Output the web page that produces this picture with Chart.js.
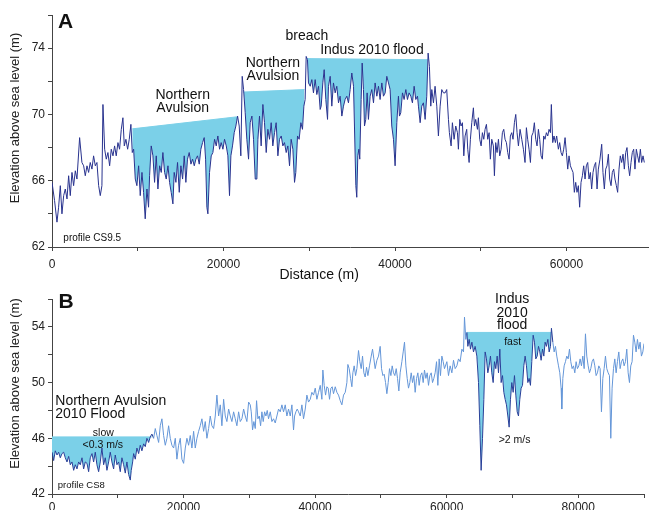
<!DOCTYPE html>
<html>
<head>
<meta charset="utf-8">
<script src="https://cdn.jsdelivr.net/npm/chart.js@4.4.1/dist/chart.umd.min.js"></script>
<style>
  html, body { margin: 0; padding: 0; background: #fff; }
  #wrap { position: relative; width: 649px; height: 510px; overflow: hidden; }
  canvas { position: absolute; left: 0; }
  #cA { top: 0; }
  #cB { top: 280px; }
</style>
</head>
<body>
<div id="wrap">
  <canvas id="cA" width="649" height="290"></canvas>
  <canvas id="cB" width="649" height="230"></canvas>
</div>
<script>
// --- profile CS9.5 (panel A): [distance m, elevation m]
var profileA = [
  [0,65.9],[300,64.8],[580,63.5],[770,64.4],[970,65.7],[1160,64.0],[1360,65.1],[1550,65.5],[1750,64.9],[1940,66.3],
  [2130,65.1],[2330,66.5],[2520,65.7],[2720,66.6],[2910,66.1],[3220,68.6],[3490,67.1],[3690,66.9],[3880,66.3],[4080,66.9],
  [4270,66.5],[4460,67.1],[4660,66.7],[4850,67.5],[5050,66.9],[5240,67.1],[5440,65.7],[5630,65.1],[5820,65.7],[5940,70.6],
  [6140,67.9],[6330,67.3],[6520,67.7],[6720,66.9],[6910,67.9],[7110,67.5],[7300,68.1],[7490,67.5],[7690,68.3],[7880,67.9],
  [8080,69.1],[8270,69.8],[8430,68.1],[8620,68.5],[8820,67.9],[9010,68.5],[9200,69.4],[9360,67.7],[9520,67.9],[9710,66.1],
  [9900,65.7],[10100,66.9],[10290,65.1],[10490,66.5],[10680,65.3],[10870,63.7],[11070,65.5],[11260,64.4],[11380,66.3],[11570,68.1],
  [11770,67.5],[11960,65.9],[12160,67.5],[12350,65.5],[12550,66.9],[12740,66.5],[12930,67.7],[13130,66.5],[13320,66.1],[13520,66.9],
  [13710,65.9],[13900,65.3],[14100,64.6],[14250,66.5],[14450,65.9],[14640,67.1],[14840,65.3],[15030,66.9],[15230,66.1],[15420,67.5],
  [15610,65.9],[15800,67.3],[16000,67.7],[16200,67.0],[16390,67.3],[16590,66.9],[16780,67.3],[16970,67.5],[17170,67.0],[17360,67.9],
  [17560,68.3],[17750,68.6],[17910,67.3],[18060,64.4],[18180,64.0],[18370,66.5],[18570,67.5],[18760,67.7],[18960,68.5],[19150,68.1],
  [19340,68.7],[19540,67.9],[19730,68.3],[19930,67.9],[20120,68.5],[20320,68.1],[20510,67.5],[20700,65.1],[20860,67.5],[21050,68.1],
  [21250,68.9],[21440,69.3],[21640,69.9],[21830,69.3],[22020,67.5],[22180,72.3],[22340,71.5],[22530,70.1],
  [22720,68.5],[22920,67.3],[23110,69.5],[23310,69.9],[23500,68.5],[23700,66.1],[23890,66.1],[24010,68.5],[24200,69.9],[24390,68.1],
  [24590,70.6],[24780,69.5],[24980,67.7],[25170,69.1],[25370,68.5],[25560,69.5],[25750,68.1],[25950,68.9],[26140,69.5],[26340,67.5],
  [26530,68.5],[26730,68.7],[26920,68.1],[27110,68.3],[27310,67.7],[27500,68.1],[27700,66.9],[27890,68.5],[28090,67.9],[28280,65.9],
  [28430,66.5],[28630,68.7],[28820,68.5],[29020,69.5],[29210,69.1],[29370,70.5],[29520,70.9],[29640,73.5],[29790,73.3],[29910,71.9],
  [30110,71.7],[30300,72.1],[30490,71.3],[30690,72.1],[30880,71.2],[31080,71.7],[31270,70.3],[31390,70.5],[31580,71.9],[31740,72.7],
  [31930,70.9],[32130,69.7],[32240,71.7],[32440,72.3],[32630,70.5],[32820,71.9],[33020,71.3],[33210,71.7],[33410,70.7],[33600,71.1],
  [33800,69.9],[33990,70.5],[34180,70.9],[34380,71.1],[34570,70.7],[34770,71.5],[34960,72.5],[35160,71.7],[35270,69.3],[35430,65.7],
  [35540,65.0],[35660,67.5],[35780,67.9],[35890,67.3],[36050,70.9],[36170,73.1],[36320,71.5],[36440,69.3],[36590,69.7],[36750,71.3],
  [36900,69.7],[37100,71.1],[37290,71.5],[37490,70.7],[37680,71.9],[37880,71.1],[38070,71.7],[38260,70.9],[38460,71.9],[38650,71.1],
  [38850,71.3],[39040,72.3],[39240,71.9],[39430,71.5],[39620,69.3],[39820,68.5],[40010,66.9],[40210,69.5],[40400,71.1],[40520,69.9],
  [40670,70.1],[40870,71.3],[41060,70.9],[41260,71.5],[41450,70.9],[41640,71.3],[41840,71.1],[42030,70.7],[42230,71.7],[42420,70.9],
  [42620,71.1],[42730,70.5],[42930,69.5],[43120,70.5],[43310,70.7],[43510,69.7],[43700,71.1],[43860,73.7],[44010,72.9],[44170,70.5],
  [44290,71.5],[44480,70.7],[44670,71.7],[44870,70.5],[45060,68.7],[45260,70.5],[45450,71.5],[45650,71.3],
  [45840,71.3],[46030,71.5],[46230,69.7],[46340,68.9],[46540,68.1],[46690,69.5],[46890,68.5],[47080,69.3],[47280,68.9],[47390,67.9],
  [47550,69.7],[47700,69.3],[47860,69.5],[48020,67.5],[48170,68.7],[48360,69.1],[48480,67.9],[48640,67.1],[48790,68.5],[48950,69.5],
  [49140,70.4],[49260,69.3],[49410,69.7],[49610,69.1],[49720,69.8],[49880,68.5],[50040,68.1],[50190,68.9],[50350,68.5],[50500,69.1],
  [50660,69.4],[50810,68.5],[50970,68.9],[51120,67.3],[51280,68.5],[51470,68.1],[51590,66.3],[51740,68.3],[51900,67.7],[52060,68.5],
  [52210,67.5],[52370,67.9],[52520,68.9],[52680,69.1],[52830,68.5],[52990,68.3],[53140,67.7],[53300,67.3],[53450,68.7],[53610,68.9],
  [53760,68.5],[53920,69.5],[54080,70.0],[54230,68.9],[54390,68.1],[54580,69.1],[54780,68.5],[54970,67.9],[55160,67.1],[55320,69.2],
  [55470,68.5],[55630,67.9],[55790,67.1],[55940,68.7],[56100,68.9],[56250,69.5],[56410,68.5],[56560,68.1],[56720,69.1],[56870,68.5],
  [57030,67.5],[57180,67.3],[57340,68.7],[57490,68.5],[57650,68.9],[57810,68.7],[57960,69.1],[58120,68.9],[58230,70.6],[58390,68.3],
  [58540,68.7],[58700,68.3],[58850,68.7],[59050,67.9],[59200,68.3],[59360,67.7],[59510,67.5],[59670,67.9],[59830,68.6],[59980,67.7],
  [60140,66.7],[60290,67.5],[60450,66.9],[60600,66.7],[60760,66.5],[60910,65.3],[61070,65.9],[61220,65.3],[61380,65.7],[61530,64.4],
  [61690,65.9],[61850,66.3],[62000,66.9],[62160,66.1],[62310,66.9],[62470,67.1],[62620,66.1],[62780,66.5],[62930,65.5],[63090,66.5],
  [63240,66.9],[63400,67.1],[63560,65.5],[63710,66.7],[63900,67.3],[64100,68.2],[64250,66.5],[64410,65.5],[64570,66.7],[64720,66.9],
  [64880,67.6],[65030,66.1],[65190,65.7],[65340,66.5],[65500,66.7],[65650,66.1],[65810,65.7],[65960,65.3],[66120,66.7],[66270,67.5],
  [66430,67.1],[66590,67.6],[66740,66.7],[66900,67.7],[67050,68.0],[67210,66.9],[67360,66.3],[67520,67.1],[67670,67.7],[67830,67.9],
  [67980,66.7],[68140,67.9],[68290,67.5],[68450,67.1],[68610,67.9],[68760,67.1],[68920,67.5],[69070,67.1]
];

// flood water surfaces, panel A: [startDist, endDist], [startLevel, endLevel]
var floodDistA = [[9360, 21640], [22300, 29440], [29720, 43820]];
var floodLevelA = [[69.13, 69.86], [71.35, 71.5], [73.37, 73.3]];

// --- profile CS8 (panel B)
var profileB = [
  [0,45.0],[250,44.4],[500,45.1],[760,44.8],[1010,45.0],[1260,44.6],[1520,44.9],[1770,45.0],[2020,44.6],[2280,44.3],
  [2530,44.7],[2780,44.1],[3040,44.3],[3290,43.7],[3540,44.1],[3800,43.8],[4050,44.3],[4300,44.1],[4560,44.6],[4810,43.8],
  [5060,44.3],[5320,44.2],[5570,43.6],[5820,44.6],[6080,44.9],[6330,44.3],[6580,45.0],[6830,44.1],[7090,43.6],[7340,44.3],
  [7590,45.3],[7850,44.1],[8100,44.6],[8350,43.7],[8610,44.3],[8860,45.0],[9110,44.3],[9370,43.8],[9620,44.8],[9870,44.1],
  [10130,44.3],[10380,43.6],[10630,44.6],[10890,44.1],[11140,43.5],[11390,44.3],[11650,43.4],[11900,43.0],[12050,43.7],[12260,44.3],
  [12410,44.9],[12660,44.5],[12910,45.3],[13170,44.9],[13420,45.5],[13670,45.1],[13930,45.6],[14180,45.4],[14430,46.0],[14690,45.7],
  [14940,46.1],[15190,46.3],[15450,46.0],[15700,46.7],[15950,46.2],[16210,45.7],[16460,46.9],[16710,47.4],[16970,46.2],[17220,45.5],
  [17470,46.0],[17730,46.9],[17980,46.0],[18230,45.5],[18490,45.3],[18740,46.0],[18990,44.5],[19250,45.5],[19500,46.0],[19750,44.5],
  [20010,44.2],[20260,45.3],[20510,46.0],[20770,45.5],[21020,46.2],[21270,45.3],[21530,46.5],[21780,45.3],[22030,46.0],[22290,46.5],
  [22540,46.9],[22790,47.4],[23050,46.5],[23300,47.2],[23550,46.0],[23810,46.7],[24060,47.6],[24310,46.9],[24570,46.7],[24820,47.6],
  [25070,49.1],[25330,47.6],[25580,48.4],[25830,46.9],[26090,48.8],[26340,47.6],[26590,47.2],[26850,48.1],[27100,47.6],[27350,47.2],
  [27610,47.9],[27860,47.4],[28110,46.9],[28370,47.9],[28620,47.2],[28870,47.4],[29130,48.1],[29380,47.6],[29630,47.2],[29890,48.6],
  [30140,48.4],[30290,47.9],[30490,46.6],[30690,47.2],[30900,46.7],[31100,48.7],[31300,47.4],[31510,47.6],[31710,46.9],[31910,47.9],
  [32110,47.2],[32320,47.9],[32520,47.6],[32720,48.0],[32920,47.4],[33180,47.9],[33430,47.2],[33680,47.4],[33940,47.1],[34190,47.6],
  [34440,48.1],[34700,47.9],[34950,48.4],[35200,47.9],[35460,48.4],[35710,47.6],[35960,48.1],[36220,47.6],[36470,48.4],[36720,46.6],
  [36880,47.6],[37080,47.9],[37280,48.1],[37480,47.9],[37740,47.6],[37990,48.4],[38240,47.4],[38500,48.1],[38750,49.1],[39000,48.6],
  [39260,48.8],[39510,49.3],[39760,49.1],[40020,49.6],[40270,48.8],[40520,49.3],[40780,49.8],[41030,48.8],[41180,50.9],[41380,49.8],
  [41590,49.1],[41790,49.7],[41990,49.6],[42190,48.8],[42400,49.6],[42600,49.7],[42800,49.2],[43060,49.7],[43310,49.3],[43560,49.1],
  [43820,48.7],[44070,48.4],[44320,49.1],[44580,49.3],[44830,50.0],[44980,51.3],[45180,51.0],[45390,50.3],[45590,49.7],[45740,50.7],
  [45940,51.2],[46150,50.5],[46350,51.0],[46600,52.3],[46800,51.5],[47010,51.0],[47210,51.9],[47410,50.7],[47610,50.4],[47820,51.1],
  [48020,50.5],[48270,51.2],[48530,51.9],[48730,52.4],[48930,51.7],[49130,51.0],[49390,51.6],[49640,51.9],[49890,52.6],[50100,51.0],
  [50300,50.5],[50500,50.6],[50710,50.0],[50910,49.2],[51110,50.0],[51310,51.0],[51520,50.5],[51720,51.2],[51920,50.7],[52120,50.5],
  [52330,51.0],[52530,50.3],[52730,49.4],[52930,50.7],[53190,51.5],[53390,52.2],[53590,52.9],[53800,51.2],[54000,50.3],[54200,49.6],
  [54400,50.0],[54610,50.7],[54810,50.0],[55010,50.5],[55210,49.3],[55420,50.3],[55620,50.7],[55820,49.8],[56020,50.5],[56230,50.7],
  [56430,50.0],[56630,50.9],[56840,50.3],[57040,50.7],[57240,49.8],[57440,50.5],[57650,50.7],[57850,50.0],[58050,50.3],[58250,50.7],
  [58460,51.5],[58660,49.8],[58860,51.7],[59060,50.5],[59270,51.9],[59470,51.5],[59670,51.0],
  [60030,51.5],[60280,50.5],[60530,51.2],[60790,50.7],[61040,51.6],[61290,51.0],[61550,51.2],[61800,51.7],[62050,51.5],[62310,52.4],
  [62560,52.2],[62710,54.7],[62910,53.1],[63070,53.6],[63220,52.6],[63420,53.1],[63620,52.4],[63830,52.9],[64080,52.2],[64330,52.6],
  [64590,51.9],[64840,50.0],[65040,46.9],[65240,43.7],[65450,46.0],[65650,48.8],[65850,52.2],[66050,51.7],[66260,50.7],[66460,51.2],
  [66660,51.9],[66860,50.7],[67070,50.0],[67270,51.5],[67470,51.0],[67680,51.9],[67880,50.7],[68080,52.4],[68280,50.0],[68490,50.5],
  [68690,49.3],[68890,48.8],[69090,48.4],[69300,47.6],[69500,46.8],[69700,48.8],[69900,50.0],[70110,49.3],[70310,50.5],[70510,49.1],
  [70720,47.9],[70920,47.6],[71120,48.8],[71320,49.6],[71530,49.8],[71730,51.2],[71930,51.9],[72130,51.2],[72340,50.0],[72540,50.3],
  [72740,49.8],[72940,51.5],[73150,53.4],[73350,52.9],[73550,51.7],[73760,51.9],[73960,52.6],[74160,52.2],[74360,51.6],[74570,52.4],
  [74770,51.9],[74970,52.9],[75170,52.6],[75380,53.1],[75580,52.2],[75780,52.6],[75930,53.9],[76140,52.9],[76340,52.2],[76540,52.6],
  [76740,51.9],[77000,51.2],[77200,50.7],[77400,49.6],[77500,48.1],[77660,50.3],[77860,51.2],[78060,51.5],[78260,51.9],[78470,51.7],
  [78670,52.4],[78870,51.5],[79070,51.0],[79280,51.2],[79480,50.7],[79680,51.5],[79880,51.0],[80090,51.2],[80290,51.7],[80490,51.2],
  [80700,51.9],[80900,51.0],[81100,53.5],[81300,51.9],[81510,51.2],[81710,50.7],[81910,51.0],[82110,51.5],[82320,51.7],[82520,51.2],
  [82720,50.5],[82920,50.7],[83130,51.2],[83330,51.0],[83530,47.9],[83740,50.3],[83940,51.0],[84140,51.9],[84340,51.0],[84550,50.7],
  [84750,50.5],[84950,46.0],[85150,49.6],[85360,51.0],[85560,51.7],[85760,50.7],[85960,51.5],[86170,52.2],[86370,51.0],[86570,51.5],
  [86780,51.7],[86980,51.2],[87180,51.5],[87380,52.4],[87590,50.7],[87790,50.0],[87990,51.2],[88190,51.5],[88400,53.4],[88600,52.9],
  [88800,52.2],[89000,53.1],[89210,52.4],[89410,52.9],[89610,51.9],[89820,52.2],[90000,52.8]
];

var floodDistB = [[0, 15200], [63070, 75980]];
var floodLevelB = [[46.1, 46.1], [53.6, 53.6]];

// tick positions; only the labelled ones get text
var xTicksA = [0, 10000, 20000, 30000, 40000, 50000, 60000];
var xTicksB = [0, 10000, 20000, 30000, 40000, 50000, 60000, 70000, 80000, 90000];
var xLabels = [0, 20000, 40000, 60000, 80000];
var yLabelsA = [62, 66, 70, 74];
var yLabelsB = [42, 46, 50, 54];

var FONT = "'Liberation Sans', Arial, Helvetica, sans-serif";
var WATER = '#7bd0e8';
var NAVY = '#28328e';
var LIGHT = '#6496d8';
var DARK = '#273f98';
var AXIS = '#444';

function pts(arr) {
    return arr.map(function (p) { return { x: p[0], y: p[1] }; });
}

function floodSets(dists, levels) {
    return dists.map(function (d, i) {
        return {
            data: [{ x: d[0], y: levels[i][0] }, { x: d[1], y: levels[i][1] }],
            borderColor: WATER,
            borderWidth: 1,
            pointRadius: 0,
            fill: { target: 0, above: WATER, below: 'rgba(0,0,0,0)' }
        };
    });
}

function inFlood(x, dists) {
    return dists.some(function (d) { return x >= d[0] - 150 && x <= d[1] + 150; });
}

// text drawn at data coordinates, plus rotated y title
function notesPlugin(items, yTitleY) {
    return {
        id: 'notes',
        afterDatasetsDraw: function (chart) {
            var c = chart.ctx, xs = chart.scales.x, ys = chart.scales.y;
            c.save();
            c.fillStyle = '#111';
            c.textBaseline = 'alphabetic';
            items.forEach(function (it) {
                c.font = (it.bold ? 'bold ' : '') + it.size + 'px ' + FONT;
                c.textAlign = it.align || 'center';
                c.fillText(it.text, xs.getPixelForValue(it.x), ys.getPixelForValue(it.y));
            });
            c.translate(15.5, yTitleY);
            c.rotate(-Math.PI / 2);
            c.font = '13px ' + FONT;
            c.textAlign = 'center';
            c.textBaseline = 'middle';
            c.fillStyle = '#222';
            c.fillText('Elevation above sea level (m)', 0, 0);
            c.restore();
        }
    };
}

function scales(xMax, xTicks, yMin, yMax, yLabels, xHeight, xPad) {
    return {
        x: {
            type: 'linear', min: 0, max: xMax,
            border: { color: AXIS, width: 1 },
            grid: { drawOnChartArea: false, drawTicks: true, tickLength: 4, color: AXIS },
            afterBuildTicks: function (s) {
                s.ticks = xTicks.map(function (v) { return { value: v }; });
            },
            ticks: {
                autoSkip: false, maxRotation: 0, padding: xPad,
                color: '#222', font: { size: 12, family: FONT },
                callback: function (v) { return xLabels.indexOf(v) >= 0 ? String(v) : ''; }
            },
            afterFit: function (s) { s.height = xHeight; }
        },
        y: {
            type: 'linear', min: yMin, max: yMax,
            border: { color: AXIS, width: 1 },
            grid: { drawOnChartArea: false, drawTicks: true, tickLength: 4, color: AXIS },
            ticks: {
                stepSize: 2, autoSkip: false, padding: 3,
                color: '#222', font: { size: 12, family: FONT },
                callback: function (v) { return yLabels.indexOf(v) >= 0 ? String(v) : ''; }
            },
            afterFit: function (s) { s.width = 52; }
        }
    };
}

var notesA = [
    { text: 'A', x: 700, y: 75.2, size: 21, bold: true, align: 'left' },
    { text: 'Northern', x: 15240, y: 70.91, size: 14 },
    { text: 'Avulsion', x: 15240, y: 70.12, size: 14 },
    { text: 'Northern', x: 25760, y: 72.88, size: 14 },
    { text: 'Avulsion', x: 25760, y: 72.06, size: 14 },
    { text: 'breach', x: 29720, y: 74.52, size: 14 },
    { text: 'Indus 2010 flood', x: 31270, y: 73.64, size: 14, align: 'left' },
    { text: 'profile CS9.5', x: 1320, y: 62.39, size: 10, align: 'left' },
    { text: 'Distance (m)', x: 31150, y: 60.05, size: 14 }
];

var notesB = [
    { text: 'B', x: 1000, y: 55.36, size: 21, bold: true, align: 'left' },
    { text: 'Northern Avulsion', x: 500, y: 48.36, size: 14, align: 'left' },
    { text: '2010 Flood', x: 500, y: 47.46, size: 14, align: 'left' },
    { text: 'slow', x: 7800, y: 46.2, size: 10.5 },
    { text: '<0.3 m/s', x: 7720, y: 45.29, size: 10.5 },
    { text: 'profile CS8', x: 880, y: 42.43, size: 9.5, align: 'left' },
    { text: 'Indus', x: 69950, y: 55.71, size: 14 },
    { text: '2010', x: 69950, y: 54.71, size: 14 },
    { text: 'flood', x: 69950, y: 53.86, size: 14 },
    { text: 'fast', x: 70030, y: 52.71, size: 10.5 },
    { text: '>2 m/s', x: 70330, y: 45.64, size: 10.5 }
];

new Chart(document.getElementById('cA'), {
    type: 'line',
    data: {
        datasets: [{
            data: pts(profileA),
            borderColor: NAVY,
            borderWidth: 1,
            pointRadius: 0,
            fill: false
        }].concat(floodSets(floodDistA, floodLevelA))
    },
    options: {
        responsive: false,
        animation: false,
        parsing: false,
        layout: { padding: { top: 15, right: 1, left: 0, bottom: 0 } },
        plugins: { legend: { display: false }, tooltip: { enabled: false } },
        scales: scales(69500, xTicksA, 62, 76, yLabelsA, 43, 6)
    },
    plugins: [notesPlugin(notesA, 118)]
});

new Chart(document.getElementById('cB'), {
    type: 'line',
    data: {
        datasets: [{
            data: pts(profileB),
            borderColor: LIGHT,
            borderWidth: 1,
            pointRadius: 0,
            fill: false,
            segment: {
                borderColor: function (ctx) {
                    return inFlood(ctx.p0.parsed.x, floodDistB) ? DARK : LIGHT;
                }
            }
        }].concat(floodSets(floodDistB, floodLevelB))
    },
    options: {
        responsive: false,
        animation: false,
        parsing: false,
        layout: { padding: { top: 19, right: 5, left: 0, bottom: 0 } },
        plugins: { legend: { display: false }, tooltip: { enabled: false } },
        scales: scales(90000, xTicksB, 42, 56, yLabelsB, 16, 2)
    },
    plugins: [notesPlugin(notesB, 103.5)]
});
</script>
</body>
</html>
